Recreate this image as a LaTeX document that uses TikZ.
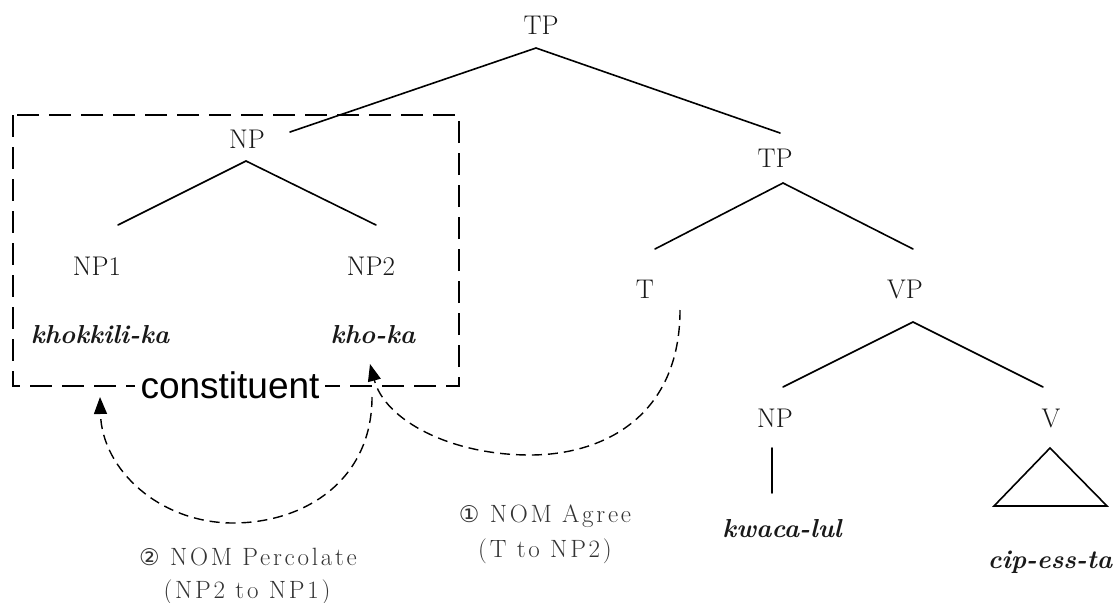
\documentclass[tikz,border=0pt]{standalone}
\usepackage{fontspec}
\newfontfamily\labelsans{Liberation Sans}
\newfontfamily\circfont{DejaVu Sans}
\newfontfamily\notefont[LetterSpace=11]{Latin Modern Roman}
\usetikzlibrary{arrows.meta}

\begin{document}
\begin{tikzpicture}[x=1pt,y=-1pt,
  cat/.style={font=\fontsize{27}{30}\selectfont, text=black!90, anchor=base, inner sep=0pt},
  word/.style={font=\fontsize{26}{30}\selectfont\bfseries\itshape, text=black!90, anchor=base, inner sep=0pt},
  branch/.style={line width=1.6pt, line cap=round},
  boxline/.style={line width=1.5pt, dash pattern=on 22pt off 10pt},
  move/.style={line width=1.4pt, dash pattern=on 10pt off 6pt, -{Triangle[length=17pt,width=13pt]}},
  note/.style={font=\notefont\fontsize{25}{28}\selectfont, text=black!80, anchor=base, inner sep=0pt}]

\useasboundingbox (0,0) rectangle (1118,602);

% category labels
\node[cat] (tp)  at (541,35)  {TP};
\node[cat] (tp2) at (775,167) {TP};
\node[cat] (np)  at (247,148) {NP};
\node[cat] (np1) at (97,275)  {NP1};
\node[cat] (np2) at (371,275) {NP2};
\node[cat] (t)   at (645,298) {T};
\node[cat] (vp)  at (905,298) {VP};
\node[cat] (obj) at (775,427) {NP};
\node[cat] (v)   at (1051,427) {V};

% terminal words
\node[word] (khokkili) at (100,343) {khokkili-ka};
\node[word] (khoka)    at (373,343) {kho-ka};
\node[word] (kwaca)    at (782,537) {kwaca-lul};
\node[word] (cip)      at (1050,568) {cip-ess-ta};

% branch points
\coordinate (tp-b)   at (536,48);
\coordinate (np-t)   at (290,132);
\coordinate (tp2-t)  at (780,133);
\coordinate (tp2-b)  at (783,183);
\coordinate (t-t)    at (655,249);
\coordinate (vp-t)   at (913,249);
\coordinate (np-b)   at (246,161);
\coordinate (np1-t)  at (118,225);
\coordinate (np2-t)  at (376,225);
\coordinate (vp-b)   at (913,322);
\coordinate (obj-t)  at (783,387);
\coordinate (v-t)    at (1043,387);
\coordinate (obj-b)  at (772,448);
\coordinate (kwaca-t) at (772,493);
\coordinate (tri-a)  at (1050,448);
\coordinate (tri-l)  at (994,506);
\coordinate (tri-r)  at (1107,506);

\draw[branch] (np-t) -- (tp-b) -- (tp2-t);
\draw[branch] (t-t) -- (tp2-b) -- (vp-t);
\draw[branch] (np1-t) -- (np-b) -- (np2-t);
\draw[branch] (obj-t) -- (vp-b) -- (v-t);
\draw[branch] (obj-b) -- (kwaca-t);
\draw[branch, line join=miter] (tri-a) -- (tri-l) -- (tri-r) -- cycle;

% constituent box
\draw[boxline] (13,115) rectangle (459,386);
\node[font=\labelsans\fontsize{37}{40}\selectfont, fill=white, anchor=base,
      inner xsep=6pt, inner ysep=2pt] (constituent) at (230,398) {constituent};

% feature movement arrows
\coordinate (agree-from) at (680,310);
\coordinate (agree-to)   at (370,364);
\coordinate (perc-from)  at (372,397);
\coordinate (perc-to)    at (100,397);

\draw[move] (agree-from) .. controls (680,415) and (605,455) .. (530,455)
                         .. controls (450,455) and (385,420) .. (agree-to);
\draw[move] (perc-from) .. controls (372,480) and (305,523) .. (233,523)
                        .. controls (160,523) and (102,470) .. (perc-to);

% operation labels
\node[note] (agree1) at (545,522) {{\circfont\fontsize{23}{28}\selectfont ①} NOM Agree};
\node[note] (agree2) at (545,557) {(T to NP2)};
\node[note] (perc1)  at (248,565) {{\circfont\fontsize{23}{28}\selectfont ②} NOM Percolate};
\node[note] (perc2)  at (247,598) {(NP2 to NP1)};

\end{tikzpicture}
\end{document}
